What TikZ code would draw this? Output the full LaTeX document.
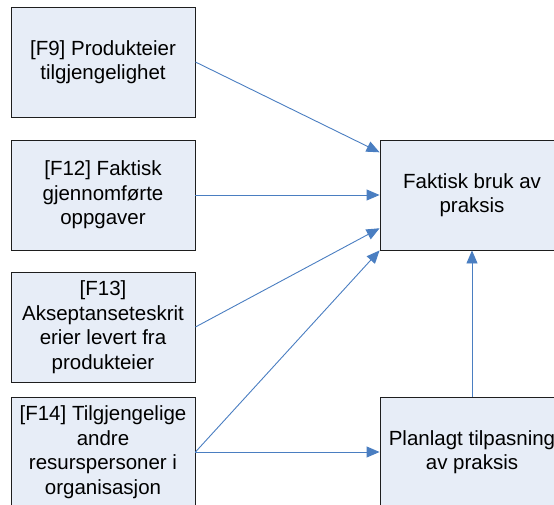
\documentclass[tikz,border=0pt]{standalone}
\usepackage{fontspec}
\setmainfont{Liberation Sans}
\usetikzlibrary{arrows.meta,calc}
\definecolor{boxfill}{RGB}{231,237,247}
\definecolor{boxline}{RGB}{30,30,30}
\definecolor{link}{RGB}{74,126,193}
\tikzset{
  factor/.style={draw=boxline, line width=0.9pt, fill=boxfill,
    minimum width=184pt, minimum height=110pt, inner sep=1pt,
    align=center, font=\fontsize{20.5pt}{24.5pt}\selectfont},
  link/.style={draw=link, line width=0.9pt,
    -{Triangle[length=13pt,width=11pt]}}
}
\begin{document}
\begin{tikzpicture}[x=1pt,y=-1pt]
\useasboundingbox (0,0) rectangle (554,504);
\clip (0,0) rectangle (554,504);
% factor boxes on the left
\node[factor] (f9)  at (103,62)  {[F9] Produkteier\\tilgjengelighet};
\node[factor] (f12) at (103,195) {[F12] Faktisk\\gjennomførte\\oppgaver};
\node[factor] (f13) at (103,327) {[F13]\\Akseptanseteskrit\\erier levert fra\\produkteier};
\node[factor] (f14) at (103,452) {[F14] Tilgjengelige\\andre\\resurspersoner i\\organisasjon};
% outcome boxes on the right
\node[factor] (fb) at (472,195) {Faktisk bruk av\\praksis};
\node[factor] (pt) at (472,452) {Planlagt tilpasning\\av praksis};
% connectors
\draw[link] (f9.east)  -- ($(fb.north west)!0.115!(fb.south west)$);
\draw[link] (f12.east) -- (fb.west);
\draw[link] (f13.east) -- ($(fb.north west)!0.8!(fb.south west)$);
\draw[link] (f14.east) -- (fb.south west);
\draw[link] (f14.east) -- (pt.west);
\draw[link] (pt.north) -- (fb.south);
\end{tikzpicture}
\end{document}
